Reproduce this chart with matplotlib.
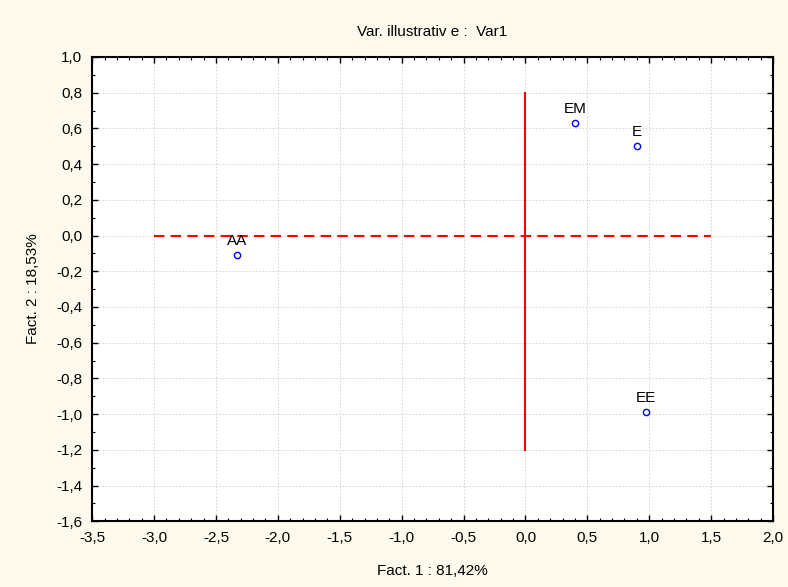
import matplotlib
matplotlib.use("Agg")
import matplotlib.pyplot as plt
from matplotlib.ticker import MultipleLocator, FuncFormatter

plt.rcParams['font.family'] = ['Liberation Sans', 'DejaVu Sans']

# category labels and their coordinates on the two factors
labels = ['EM', 'E', 'AA', 'EE']
fact1 = [0.40, 0.90, -2.33, 0.97]
fact2 = [0.63, 0.50, -0.11, -0.99]

# reference axes drawn in red
hline_x = [-3.0, 1.5]
hline_y = [0.0, 0.0]
vline_x = [0.0, 0.0]
vline_y = [-1.2, 0.8]

fig = plt.figure(figsize=(7.88, 5.87), dpi=100, facecolor='#fdf9ec')
ax = fig.add_axes([0.117, 0.112, 0.864, 0.791])
ax.set_facecolor('white')

ax.plot(hline_x, hline_y, color='red', linestyle=(0, (5, 3)), linewidth=1.5, zorder=2)
ax.plot(vline_x, vline_y, color='red', linestyle='-', linewidth=1.5, zorder=2)

ax.plot(fact1, fact2, 'o', markersize=4.5, markerfacecolor='none',
        markeredgecolor='blue', markeredgewidth=1.0, zorder=3)
for lab, x, y in zip(labels, fact1, fact2):
    ax.annotate(lab, (x, y), xytext=(0, 5), textcoords='offset points',
                ha='center', va='bottom', fontsize=11, zorder=4)

ax.set_xlim(-3.5, 2.0)
ax.set_ylim(-1.6, 1.0)
ax.xaxis.set_major_locator(MultipleLocator(0.5))
ax.xaxis.set_minor_locator(MultipleLocator(0.1))
ax.yaxis.set_major_locator(MultipleLocator(0.2))
ax.yaxis.set_minor_locator(MultipleLocator(0.1))

comma = FuncFormatter(lambda v, p: ('%.1f' % v).replace('.', ','))
ax.xaxis.set_major_formatter(comma)
ax.yaxis.set_major_formatter(comma)

ax.tick_params(which='both', direction='in', top=True, right=True, labelsize=11)
ax.tick_params(which='major', length=4, width=1, pad=7)
ax.tick_params(which='minor', length=2, width=0.8)

ax.grid(True, which='major', color='#cfcfcf', linestyle=(0, (2, 2)), linewidth=0.6, zorder=0)
for s in ax.spines.values():
    s.set_linewidth(1.5)

ax.set_xlabel('Fact. 1 : 81,42%', fontsize=11, labelpad=14)
ax.set_ylabel('Fact. 2 : 18,53%', fontsize=11, labelpad=12)
ax.set_title('Var. illustrativ e :  Var1', fontsize=11, pad=15)

fig.savefig('out.png', dpi=100, facecolor=fig.get_facecolor())
